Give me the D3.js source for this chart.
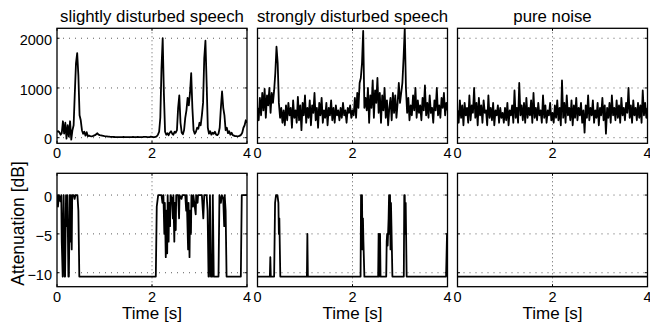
<!DOCTYPE html>
<html>
<head>
<meta charset="utf-8">
<script src="https://cdn.jsdelivr.net/npm/d3@7"></script>
<style>
  body { margin: 0; background: #fff; }
  text { font-family: "Liberation Sans", Arial, Helvetica, sans-serif; fill: #000; }
</style>
</head>
<body>
<svg id="chart" width="650" height="327"></svg>
<script>
// panel titles and axis labels
const titles = ["slightly disturbed speech", "strongly disturbed speech", "pure noise"];
const xTicks = [0, 2, 4];
const yTicksTop = [0, 1000, 2000];
const yTicksBottom = [-10, -5, 0];
const xLabel = "Time [s]";
const yLabel = "Attenuation [dB]";

// top row: signal level, sampled every 0.025 s from 0 to 4 s
const sampleStep = 0.025;
const slightSpeech = [
  120,130,110,60,90,330,80,300,-20,250,20,330,-40,150,250,900,1500,1700,1250,450,
  350,150,80,120,40,110,30,40,30,25,30,40,50,70,90,60,50,45,40,35,
  30,28,25,22,20,18,15,15,14,12,12,10,12,10,10,12,15,12,10,10,
  12,10,10,12,14,12,10,12,15,12,10,10,12,15,18,15,12,10,12,20,
  15,10,12,15,30,60,120,400,1400,2000,900,120,60,90,50,100,130,80,60,120,
  100,150,600,850,300,100,70,150,400,550,800,650,900,1300,600,150,80,120,200,180,
  300,250,450,700,1600,1950,1100,200,80,130,60,100,80,120,60,50,80,200,600,930,
  600,450,150,200,90,130,60,100,50,40,30,30,25,30,40,60,100,200,250,350,
  300
];
const strongSpeech = [
  600,350,800,450,900,550,980,400,850,650,1000,500,900,700,950,1300,1830,1500,700,400,
  600,300,550,250,650,350,700,450,600,200,750,400,550,300,820,350,650,150,700,450,
  850,300,600,400,750,250,650,500,900,350,600,200,700,450,800,300,550,400,700,250,
  600,450,750,350,600,300,650,450,550,350,600,400,700,450,550,300,600,500,650,400,
  550,450,800,400,900,600,1100,1200,1500,2150,600,800,550,1000,300,850,600,1150,400,950,
  700,1200,500,900,300,850,550,1000,400,750,250,600,800,350,900,500,850,400,700,1100,
  700,900,1100,1600,2200,1000,500,800,350,650,450,850,550,1000,400,750,500,650,350,800,
  550,1050,450,700,400,850,500,600,300,750,550,1000,450,650,400,800,600,900,450,700,
  550
];
const pureNoise = [
  550,300,750,400,650,250,700,450,600,300,850,350,650,500,1000,400,700,250,800,450,
  650,300,750,500,550,250,850,400,600,350,700,250,550,450,650,300,600,400,500,300,
  600,350,700,250,550,450,650,300,950,400,600,300,1100,450,650,350,700,300,800,400,
  600,450,750,300,900,400,600,350,700,450,550,300,850,400,650,300,550,450,700,350,
  500,300,650,400,750,350,600,250,1150,400,700,300,850,450,600,350,750,250,650,400,
  800,350,600,450,700,300,550,100,650,400,850,350,600,450,750,300,550,400,700,250,
  600,450,800,350,650,80,600,400,700,300,850,450,600,350,750,400,650,300,800,450,
  600,350,700,500,1000,400,650,300,750,450,600,350,700,400,650,300,950,450,700,400,
  600
];

// bottom row: attenuation breakpoints (time [s], value [dB])
const attTimeSlight = [
  0,0.02,0.04,0.07,0.09,0.1,0.12,0.13,0.14,0.16,0.17,0.19,0.21,0.22,0.24,0.25,0.27,0.28,0.29,0.31,
  0.32,0.35,0.37,0.39,0.43,0.45,0.47,2.08,2.1,2.13,2.2,2.22,2.24,2.26,2.27,2.29,2.3,2.32,2.33,2.35,
  2.36,2.38,2.39,2.42,2.44,2.45,2.47,2.48,2.5,2.51,2.55,2.57,2.58,2.62,2.64,2.7,2.72,2.73,2.76,2.77,
  2.79,2.8,2.82,2.83,2.86,2.87,2.92,2.93,2.96,2.97,3.05,3.08,3.1,3.15,3.17,3.19,3.2,3.22,3.24,3.27,
  3.28,3.3,3.4,3.42,3.45,3.47,3.5,3.52,3.53,3.55,3.57,3.87,3.89,4
];
const attSlight = [
  0,-1.5,0,-0.8,0,-6,-10.5,-3,0,-10.5,-10.5,0,-4,0,-10.5,-10.5,0,-6,0,-7,
  0,0,-0.5,0,0,-2,-10.5,-10.5,-1.5,0,0,-1,0,-5,-1,-8,-2,-7.5,0,-6,
  -1,-4,0,-0.5,-3,0,-6,-1,-4.5,0,0,-3,0,-0.5,0,0,-2,0,-7,-1,
  -8,-2,-5,0,-1.5,0,-2.5,0,-1,0,0,-3,0,0,-2,-10.5,-10.5,0,-10.5,-10.5,
  0,-10.5,-10.5,0,-1,0,-0.5,-4,0,-2,-10.5,-10.5,0,0
];
const attTimeStrong = [
  0,0.26,0.27,0.28,0.35,0.37,0.39,0.42,0.44,0.45,0.46,0.48,1.04,1.05,1.06,2.17,2.18,2.19,2.2,2.21,
  2.22,2.23,2.25,2.54,2.55,2.56,2.58,2.59,2.71,2.72,2.73,2.74,2.76,2.77,2.78,2.79,2.8,2.81,2.82,2.84,
  3.08,3.09,3.1,3.11,3.12,3.14,3.97,3.99,4
];
const attStrong = [
  -10.5,-10.5,-8,-10.5,-10.5,-1,0,0,-1,-5,-3,-10.5,-10.5,-5,-10.5,-10.5,0,-5,0,-7,
  -3,-6,-10.5,-10.5,-5,-10.5,-5,-10.5,-10.5,-6,-5,-6.5,-3,0,-5,0,-7,-1,-4,-10.5,
  -10.5,0,0,-5,-1,-10.5,-10.5,-5,-5
];
const attTimeNoise = [0, 4];
const attNoise = [-10.5, -10.5];

const svg = d3.select("#chart");
const panelLeft = [57, 257.5, 457.5];
const panelW = 190;
const rows = [
  { top: 28.3, bottom: 143.3, domain: [-113, 2200], ticks: yTicksTop },
  { top: 173.3, bottom: 286.7, domain: [-11.8, 2.8], ticks: yTicksBottom }
];

const topSeries = [slightSpeech, strongSpeech, pureNoise].map(vals =>
  vals.map((v, i) => ({ t: i * sampleStep, v })));
const bottomSeries = [
  [attTimeSlight, attSlight], [attTimeStrong, attStrong], [attTimeNoise, attNoise]
].map(([ts, vs]) => ts.map((t, i) => ({ t, v: vs[i] })));

function drawPanel(col, rowIdx, data) {
  const row = rows[rowIdx];
  const x = d3.scaleLinear().domain([0, 4]).range([panelLeft[col], panelLeft[col] + panelW]);
  const y = d3.scaleLinear().domain(row.domain).range([row.bottom, row.top]);
  const g = svg.append("g");

  // dotted grid
  g.selectAll(".hgrid").data(row.ticks).enter().append("line")
    .attr("x1", x(0)).attr("x2", x(4))
    .attr("y1", d => y(d)).attr("y2", d => y(d))
    .attr("stroke", "#333").attr("stroke-width", 0.8).attr("stroke-dasharray", "1,5");
  g.append("line")
    .attr("x1", x(2)).attr("x2", x(2)).attr("y1", row.top).attr("y2", row.bottom)
    .attr("stroke", "#333").attr("stroke-width", 0.8).attr("stroke-dasharray", "1,3");

  // clip
  const clipId = "clip" + rowIdx + col;
  svg.append("clipPath").attr("id", clipId).append("rect")
    .attr("x", x(0)).attr("y", row.top).attr("width", panelW).attr("height", row.bottom - row.top);

  const line = d3.line().x(d => x(d.t)).y(d => y(d.v));
  g.append("path").datum(data)
    .attr("clip-path", `url(#${clipId})`)
    .attr("d", line).attr("fill", "none").attr("stroke", "#000")
    .attr("stroke-width", 1.8).attr("stroke-linejoin", "round");

  // box
  g.append("rect").attr("x", x(0)).attr("y", row.top)
    .attr("width", panelW).attr("height", row.bottom - row.top)
    .attr("fill", "none").attr("stroke", "#000").attr("stroke-width", 1.3);

  // inward ticks
  const tl = 2.5;
  xTicks.forEach(t => {
    g.append("line").attr("x1", x(t)).attr("x2", x(t)).attr("y1", row.bottom).attr("y2", row.bottom - tl).attr("stroke", "#000");
    g.append("line").attr("x1", x(t)).attr("x2", x(t)).attr("y1", row.top).attr("y2", row.top + tl).attr("stroke", "#000");
  });
  row.ticks.forEach(v => {
    g.append("line").attr("x1", x(0)).attr("x2", x(0) + tl).attr("y1", y(v)).attr("y2", y(v)).attr("stroke", "#000");
    g.append("line").attr("x1", x(4)).attr("x2", x(4) - tl).attr("y1", y(v)).attr("y2", y(v)).attr("stroke", "#000");
  });

  // x tick labels
  g.selectAll(".xl").data(xTicks).enter().append("text")
    .attr("x", d => x(d)).attr("y", row.bottom + 14.8)
    .attr("text-anchor", "middle").style("font-size", "14.5px")
    .text(d => d3.format("d")(d));

  // y tick labels on first column
  if (col === 0) {
    g.selectAll(".yl").data(row.ticks).enter().append("text")
      .attr("x", x(0) - 5).attr("y", d => y(d) + 6.8)
      .attr("text-anchor", "end").style("font-size", "14.5px")
      .text(d => d3.format("d")(d));
  }

  if (rowIdx === 0) {
    g.append("text").attr("x", x(2)).attr("y", 21.5)
      .attr("text-anchor", "middle").style("font-size", "16.8px").text(titles[col]);
  } else {
    g.append("text").attr("x", x(2)).attr("y", 318.5)
      .attr("text-anchor", "middle").style("font-size", "17px").text(xLabel);
  }
}

for (let c = 0; c < 3; c++) {
  drawPanel(c, 0, topSeries[c]);
  drawPanel(c, 1, bottomSeries[c]);
}

svg.append("text")
  .attr("transform", "translate(23.5,223.5) rotate(-90)")
  .attr("text-anchor", "middle").style("font-size", "17.5px")
  .text(yLabel);
</script>
</body>
</html>
